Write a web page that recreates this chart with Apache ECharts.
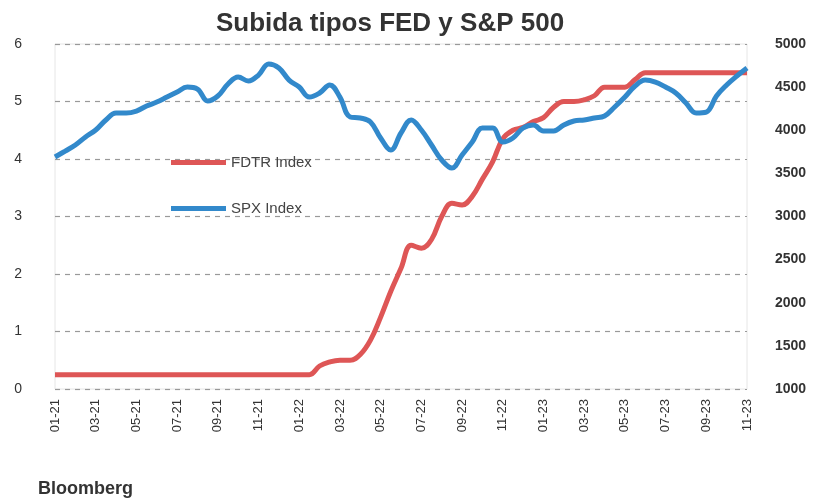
<!DOCTYPE html>
<html>
<head>
<meta charset="utf-8">
<script src="https://cdn.jsdelivr.net/npm/echarts@6/dist/echarts.min.js"></script>
<style>
  html, body { margin: 0; padding: 0; background: #fff; }
  #chart { width: 831px; height: 504px; }
</style>
</head>
<body>
<div id="chart"></div>
<script>
// half-month points, Jan 2021 -> late Nov 2023
const months = ['01', '02', '03', '04', '05', '06', '07', '08', '09', '10', '11', '12'];
const years = ['21', '22', '23'];
const dates = [];
years.forEach(y => months.forEach(m => {
  dates.push(m + '-' + y);
  dates.push(m + '-' + y + 'b');
}));
const categories = dates.slice(0, 69);

// FDTR Index (left axis, %)
const fdtr = [
  0.25, 0.25, 0.25, 0.25, 0.25, 0.25, 0.25, 0.25, 0.25, 0.25,
  0.25, 0.25, 0.25, 0.25, 0.25, 0.25, 0.25, 0.25, 0.25, 0.25,
  0.25, 0.25, 0.25, 0.25, 0.25, 0.25, 0.4, 0.47, 0.5, 0.5,
  0.6, 0.85, 1.25, 1.7, 2.1, 2.5, 2.45, 2.6, 3.0, 3.23,
  3.2, 3.35, 3.65, 3.95, 4.35, 4.5, 4.55, 4.65, 4.72, 4.9,
  5.0, 5.0, 5.03, 5.1, 5.25, 5.25, 5.25, 5.38, 5.5, 5.5,
  5.5, 5.5, 5.5, 5.5, 5.5, 5.5, 5.5, 5.5, 5.5
];

// SPX Index (right axis)
const spx = [
  3690, 3759, 3829, 3922, 4003, 4119, 4200, 4200, 4223, 4281,
  4327, 4385, 4443, 4501, 4478, 4339, 4397, 4536, 4617, 4571,
  4640, 4768, 4722, 4582, 4501, 4385, 4432, 4525, 4385, 4154,
  4142, 4096, 3910, 3771, 3968, 4119, 4003, 3829, 3655, 3562,
  3713, 3864, 4026, 4026, 3864, 3910, 4026, 4061, 3991, 3991,
  4061, 4107, 4119, 4142, 4165, 4270, 4385, 4513, 4582, 4559,
  4501, 4432, 4316, 4200, 4211, 4397, 4525, 4629, 4722
];

const chart = echarts.init(document.getElementById('chart'));

const option = {
  backgroundColor: '#fff',
  animation: false,
  title: {
    text: 'Subida tipos FED y S&P 500',
    left: 385,
    top: 6,
    textAlign: 'center',
    textStyle: { fontFamily: 'Liberation Sans', fontSize: 26, fontWeight: 'bold', color: '#333' }
  },
  legend: {
    orient: 'vertical',
    left: 166,
    top: 150,
    itemWidth: 55,
    itemHeight: 5,
    itemGap: 31,
    icon: 'rect',
    textStyle: { fontFamily: 'Liberation Sans', fontSize: 15, color: '#444' },
    data: ['FDTR Index', 'SPX Index']
  },
  grid: {
    left: 55,
    right: 84,
    top: 44,
    bottom: 115,
    show: true,
    borderColor: '#e6e6e6',
    borderWidth: 1
  },
  xAxis: {
    type: 'category',
    data: categories,
    boundaryGap: false,
    axisLine: { show: false },
    axisTick: { show: false },
    axisLabel: {
      interval: 3,
      rotate: 90,
      margin: 10,
      fontFamily: 'Liberation Sans',
      fontSize: 13,
      color: '#333',
      formatter: v => v.slice(0, 5)
    }
  },
  yAxis: [
    {
      type: 'value',
      min: 0,
      max: 6,
      interval: 1,
      axisLine: { show: false },
      axisTick: { show: false },
      axisLabel: { margin: 33, fontFamily: 'Liberation Sans', fontSize: 14, color: '#333' },
      splitLine: { lineStyle: { type: [5, 5], color: '#999', width: 1.2 } }
    },
    {
      type: 'value',
      min: 1000,
      max: 5000,
      interval: 500,
      position: 'right',
      axisLine: { show: false },
      axisTick: { show: false },
      axisLabel: {
        margin: 28,
        fontFamily: 'Liberation Sans',
        fontSize: 14,
        fontWeight: 'bold',
        color: '#333',
        formatter: v => String(v)
      },
      splitLine: { show: false }
    }
  ],
  graphic: [
    {
      type: 'text',
      left: 38,
      top: 480,
      style: { text: 'Bloomberg', font: 'bold 18px "Liberation Sans"', fill: '#333' }
    }
  ],
  series: [
    {
      name: 'FDTR Index',
      type: 'line',
      data: fdtr,
      yAxisIndex: 0,
      smooth: 0.4,
      symbol: 'none',
      lineStyle: { width: 5, color: '#DE5656' },
      itemStyle: { color: '#DE5656' }
    },
    {
      name: 'SPX Index',
      type: 'line',
      data: spx,
      yAxisIndex: 1,
      smooth: 0.4,
      symbol: 'none',
      lineStyle: { width: 5, color: '#3289CB' },
      itemStyle: { color: '#3289CB' }
    }
  ]
};

chart.setOption(option);
</script>
</body>
</html>
